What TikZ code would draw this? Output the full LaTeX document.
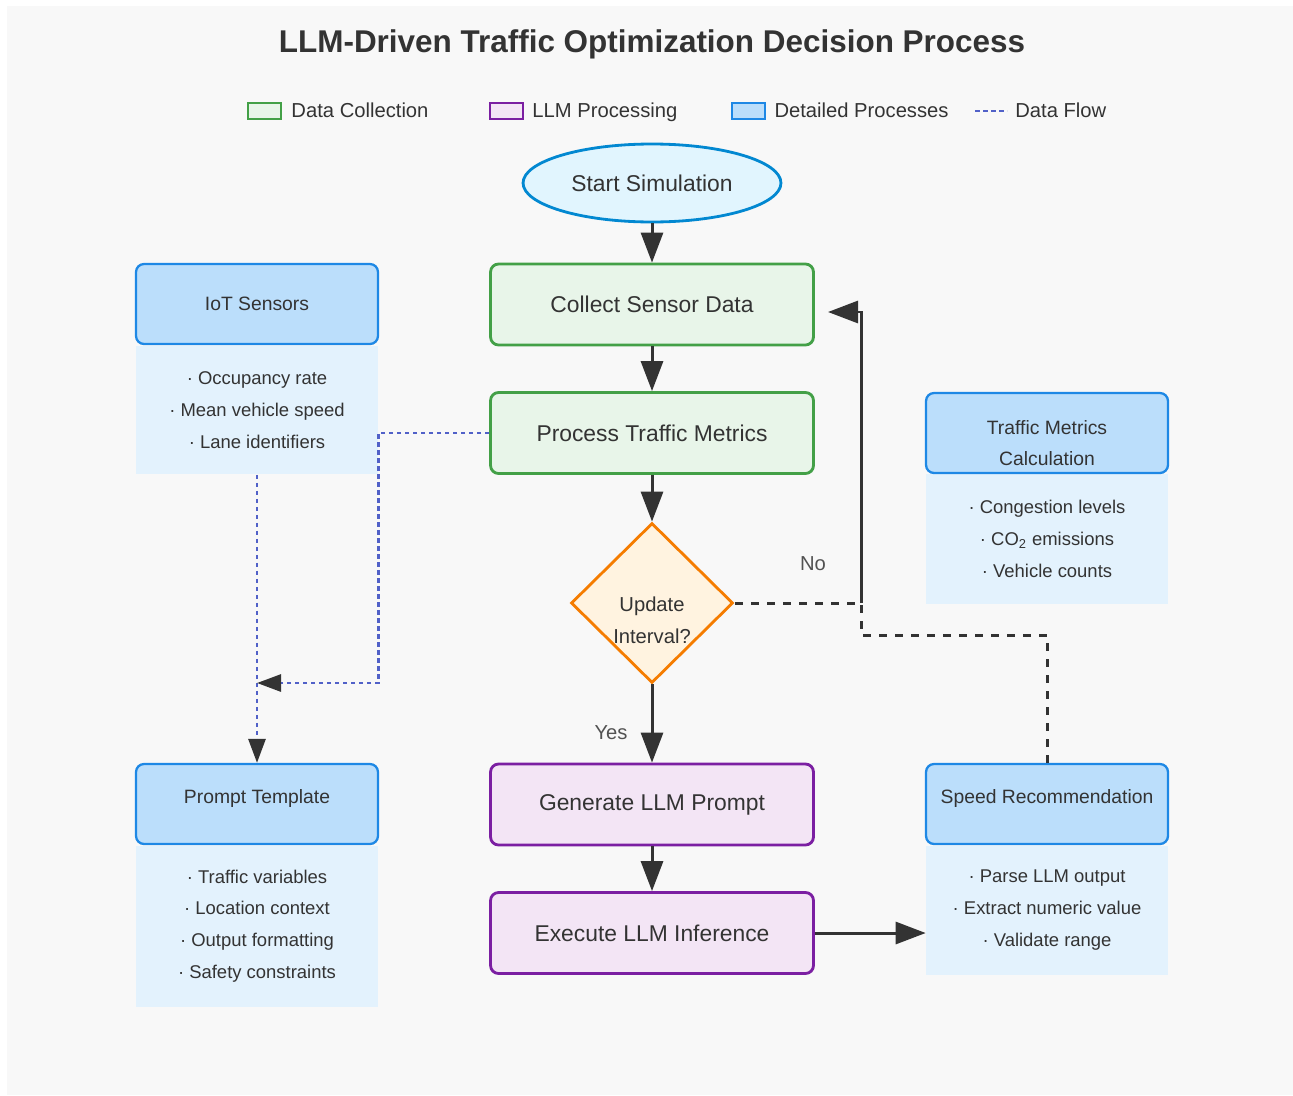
\documentclass[tikz,border=0pt]{standalone}
\usepackage{fontspec}
\setmainfont{Liberation Sans}
\usetikzlibrary{shapes.geometric,arrows.meta,positioning}

\definecolor{ink}{HTML}{333333}
\definecolor{canvas}{HTML}{F8F8F8}
\definecolor{greenline}{HTML}{43A047}
\definecolor{greenfill}{HTML}{E8F5E9}
\definecolor{purpleline}{HTML}{7B1FA2}
\definecolor{purplefill}{HTML}{F3E5F5}
\definecolor{blueline}{HTML}{1E88E5}
\definecolor{bluehead}{HTML}{BBDEFB}
\definecolor{bluebody}{HTML}{E3F2FD}
\definecolor{startline}{HTML}{0288D1}
\definecolor{startfill}{HTML}{E1F5FE}
\definecolor{orangeline}{HTML}{F57C00}
\definecolor{orangefill}{HTML}{FFF3E0}
\definecolor{flowblue}{HTML}{5161C8}

\tikzset{
  box/.style={rectangle, rounded corners=0.16cm, line width=1.6pt,
    minimum width=6.46cm, minimum height=1.62cm, text=ink,
    font=\fontsize{13}{16}\selectfont},
  collectbox/.style={box, draw=greenline, fill=greenfill},
  llmbox/.style={box, draw=purpleline, fill=purplefill},
  startnode/.style={ellipse, draw=startline, fill=startfill, line width=1.6pt,
    minimum width=5.16cm, minimum height=1.56cm, inner sep=0pt, text=ink,
    font=\fontsize{13}{16}\selectfont},
  decisionnode/.style={diamond, draw=orangeline, fill=orangefill, line width=1.6pt,
    minimum width=3.24cm, minimum height=3.2cm, inner sep=0pt},
  head/.style={rectangle, rounded corners=0.16cm, draw=blueline, fill=bluehead,
    line width=1.3pt, minimum width=4.84cm, minimum height=1.6cm, align=center,
    text=ink, font=\fontsize{11}{18.1}\selectfont},
  headtext/.style={text=ink, align=center, font=\fontsize{11}{18.1}\selectfont},
  detail/.style={rectangle, fill=bluebody, minimum width=4.84cm, align=center,
    text=ink, font=\fontsize{10.5}{18.1}\selectfont, inner sep=0pt},
  choice/.style={text=ink!85, font=\fontsize{11.5}{14}\selectfont},
  swatch/.style={rectangle, line width=1.3pt, minimum width=0.66cm,
    minimum height=0.32cm, inner sep=0pt},
  keytext/.style={text=ink, inner sep=0pt, text height=1.95ex, text depth=0.45ex,
    font=\fontsize{11.5}{14}\selectfont},
  flow/.style={draw=ink, line width=1.7pt, -{Triangle[length=0.6cm, width=0.44cm]}},
  loopdash/.style={draw=ink, line width=1.7pt, dash pattern=on 0.16cm off 0.16cm},
  dataflow/.style={draw=flowblue, line width=1.6pt, dash pattern=on 0.09cm off 0.07cm},
  datafeed/.style={dataflow, -{Triangle[length=0.48cm, width=0.34cm, color=ink]}}
}

\begin{document}
\begin{tikzpicture}[x=0.02cm, y=-0.02cm]
  \useasboundingbox (0,0) rectangle (1293,1095);
  \fill[white] (0,0) rectangle (1293,1095);
  \fill[canvas] (7,6) rectangle (1293,1095);

  % title and key
  \node[text=ink, font=\fontsize{17.9}{20}\selectfont\bfseries] (title) at (652,44)
    {LLM-Driven Traffic Optimization Decision Process};

  \node[swatch, draw=greenline, fill=greenfill] (keycollect) at (264.5,111) {};
  \node[keytext, right=0.18cm of keycollect] (keycollecttext) {Data Collection};
  \node[swatch, draw=purpleline, fill=purplefill] (keyllm) at (506.5,111) {};
  \node[keytext, right=0.16cm of keyllm] (keyllmtext) {LLM Processing};
  \node[swatch, draw=blueline, fill=bluehead] (keydetail) at (748.5,111) {};
  \node[keytext, right=0.16cm of keydetail] (keydetailtext) {Detailed Processes};
  \coordinate (keyflowa) at (975,111);
  \coordinate (keyflowb) at (1007,111);
  \draw[dataflow] (keyflowa) -- (keyflowb);
  \node[keytext, right=0.16cm of keyflowb] (keyflowtext) {Data Flow};

  % main loop
  \node[startnode] (start) at (652,183) {Start Simulation};
  \node[collectbox] (collect) at (652,304.5) {Collect Sensor Data};
  \node[collectbox] (process) at (652,433) {Process Traffic Metrics};
  \node[decisionnode] (decision) at (652,603) {};
  \node[text=ink, align=center, font=\fontsize{11.5}{18.1}\selectfont] (decisiontext)
    at (652,620) {Update\\Interval?};
  \node[llmbox] (generate) at (652,804.5) {Generate LLM Prompt};
  \node[llmbox] (execute) at (652,933) {Execute LLM Inference};

  % detail panels
  \node[detail, minimum height=2.58cm] (iotbody) at (257,410)
    {· Occupancy rate\\ · Mean vehicle speed\\ · Lane identifiers};
  \node[head] (iothead) at (257,304) {IoT Sensors};

  \node[detail, minimum height=2.6cm] (metricsbody) at (1047,539)
    {· Congestion levels\\ · CO\textsubscript{2} emissions\\ · Vehicle counts};
  \node[head] (metricshead) at (1047,433) {};
  \node[headtext] (metricstitle) at (1047,443) {Traffic Metrics\\Calculation};

  \node[detail, minimum height=3.22cm] (promptbody) at (257,926)
    {· Traffic variables\\ · Location context\\ · Output formatting\\ · Safety constraints};
  \node[head] (prompthead) at (257,804) {};
  \node[headtext] (prompttitle) at (257,798) {Prompt Template};

  \node[detail, minimum height=2.58cm] (speedbody) at (1047,910)
    {· Parse LLM output\\ · Extract numeric value\\ · Validate range};
  \node[head] (speedhead) at (1047,804) {};
  \node[headtext] (speedtitle) at (1047,798) {Speed Recommendation};

  % data flow (dotted)
  \coordinate (merge) at (257,683);
  \draw[datafeed] (iotbody.south) -- (prompthead.north);
  \draw[datafeed] (process.west) -| (iotbody.east |- merge) -- (merge);

  % control flow
  \draw[flow] (start) -- (collect);
  \draw[flow] (collect) -- (process);
  \draw[flow] (process) -- (decision);
  \draw[flow] (decision) -- (generate);
  \draw[flow] (generate) -- (execute);
  \draw[flow] (execute.east) -- (execute.east -| speedbody.west);
  \node[choice] (yes) at (611,733) {Yes};
  \node[choice] (no) at (813,564) {No};

  % loop back to sensing
  \coordinate (noturn) at (861,603);
  \coordinate (fbturn) at (861,635);
  \coordinate (backin) at (828,312);
  \draw[loopdash] (speedhead.north) |- (fbturn) -- (noturn) -- (decision.east);
  \draw[flow] (noturn) |- (backin);
\end{tikzpicture}
\end{document}
